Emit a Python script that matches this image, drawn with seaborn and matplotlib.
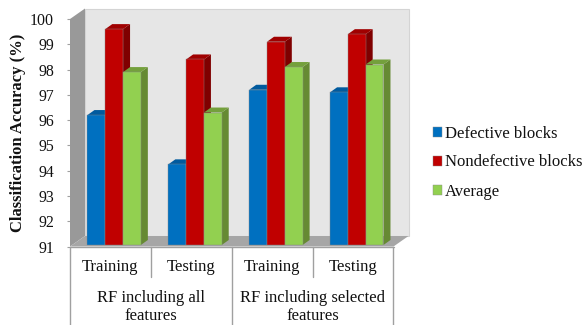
import pandas as pd
import seaborn as sns
import matplotlib
matplotlib.use("Agg")
import matplotlib.pyplot as plt
from matplotlib.patches import Polygon

groups = ['all_train', 'all_test', 'sel_train', 'sel_test']
tick_labels = ['Training', 'Testing', 'Training', 'Testing']
outer_labels = ['RF including all\nfeatures', 'RF including selected\nfeatures']
yticks = [91, 92, 93, 94, 95, 96, 97, 98, 99, 100]
defective = [96.2, 94.25, 97.2, 97.1]
nondefective = [99.6, 98.4, 99.1, 99.4]
average = [97.9, 96.3, 98.1, 98.2]

series_names = ['Defective blocks', 'Nondefective blocks', 'Average']
colors = ['#0070c0', '#c00000', '#92d050']
top_colors = ['#005a9e', '#a00000', '#74a03c']
side_colors = ['#00508c', '#7f0000', '#668a33']

df = pd.DataFrame({
    'group': groups * 3,
    'series': [s for s in series_names for _ in groups],
    'acc': defective + nondefective + average,
})

sns.set_theme(style='white')
plt.rcParams['font.family'] = ['Liberation Serif', 'DejaVu Serif']

W, H = 583, 325
fig = plt.figure(figsize=(W / 100, H / 100), dpi=100)
# axes = front plane of the fake 3d box
left, right, top, bottom = 70, 393.5, 19, 246.5
ax = fig.add_axes([left / W, 1 - bottom / H, (right - left) / W, (bottom - top) / H])
ax.patch.set_alpha(0)

sns.barplot(data=df, x='group', y='acc', hue='series', order=groups, hue_order=series_names,
            palette=colors, saturation=1, width=0.66, gap=0, ax=ax, zorder=5,
            edgecolor='#8a8a8a', linewidth=0.3)

shift = 0.046
ax.set_xlim(-0.5 - shift, 3.5 - shift)
ax.set_ylim(91, 100)
px = 4.0 / (right - left)
py = 9.0 / (bottom - top)

x0, x1 = ax.get_xlim()
wall_dx, wall_dy = 15 * px, 10.5 * py
bar_dx, bar_dy = 7 * px, 5 * py
base = 91 + 1.5 * py


def poly(pts, color, z, edge='none'):
    ax.add_patch(Polygon(pts, closed=True, facecolor=color, edgecolor=edge, linewidth=0.8, clip_on=False, zorder=z))


# walls and floor
poly([(x0 + wall_dx, 91 + wall_dy), (x1 + wall_dx, 91 + wall_dy), (x1 + wall_dx, 100 + wall_dy), (x0 + wall_dx, 100 + wall_dy)],
     '#e6e6e6', 1, '#d4d4d4')
poly([(x0, 91), (x0 + wall_dx, 91 + wall_dy), (x0 + wall_dx, 100 + wall_dy), (x0, 100)], '#999999', 2)
poly([(x0, 91), (x1, 91), (x1 + wall_dx, 91 + wall_dy), (x0 + wall_dx, 91 + wall_dy)], '#a6a6a6', 2)

# extrude the seaborn bars
for i, cont in enumerate(ax.containers):
    for bar in cont:
        val = bar.get_height()
        bx = bar.get_x()
        bw = bar.get_width()
        bar.set_y(base)
        bar.set_height(val - base)
        bar.set_zorder(5 + 2 * i + 1)
        poly([(bx + bw, base), (bx + bw + bar_dx, base + bar_dy), (bx + bw + bar_dx, val + bar_dy), (bx + bw, val)],
             side_colors[i], 5 + 2 * i)
        poly([(bx, val), (bx + bar_dx, val + bar_dy), (bx + bw + bar_dx, val + bar_dy), (bx + bw, val)],
             top_colors[i], 5 + 2 * i)

for s in ax.spines.values():
    s.set_visible(False)

ax.set_xlabel('')
ax.set_xticks([])
ax.set_yticks(yticks)
ax.tick_params(axis='y', length=2.5, width=0.8, color='#a0a0a0', pad=9, labelsize=11.4, labelcolor='#111111', left=True)
ax.set_ylabel('Classification Accuracy (%)', fontsize=12, fontweight='bold', color='#111111')
ax.yaxis.set_label_coords(-0.168 + 10 / (right - left), 0.5)

# multi level category axis, in axes fractions
tr = ax.get_xaxis_transform()
line_kw = dict(color='#a0a0a0', lw=1.0, clip_on=False, zorder=3)
ax.plot([x0, x1], [91, 91], transform=ax.transData, **line_kw)
for k in range(5):
    xk = x0 + k
    ax.plot([xk, xk], [0, -79 / (bottom - top) if k % 2 == 0 else -30 / (bottom - top)], transform=tr, **line_kw)
for k, lab in enumerate(tick_labels):
    ax.text(x0 + k + 0.5, -20.5 / (bottom - top), lab, transform=tr, ha='center', va='center', fontsize=12, color='#111111')
for k, lab in enumerate(outer_labels):
    ax.text(x0 + 2 * k + 1, -60.5 / (bottom - top), lab, transform=tr, ha='center', va='center', fontsize=12,
            color='#111111', linespacing=1.14)

handles, labels = ax.get_legend_handles_labels()
ax.legend(handles, labels, loc='center left', bbox_to_anchor=(432.5 / W, 1 - 162.5 / H), bbox_transform=fig.transFigure,
          frameon=False, fontsize=12, handlelength=0.55, handleheight=0.55, handletextpad=0.2,
          labelspacing=0.78, borderpad=0, borderaxespad=0, labelcolor='#111111')

fig.savefig('out.png', dpi=100)
